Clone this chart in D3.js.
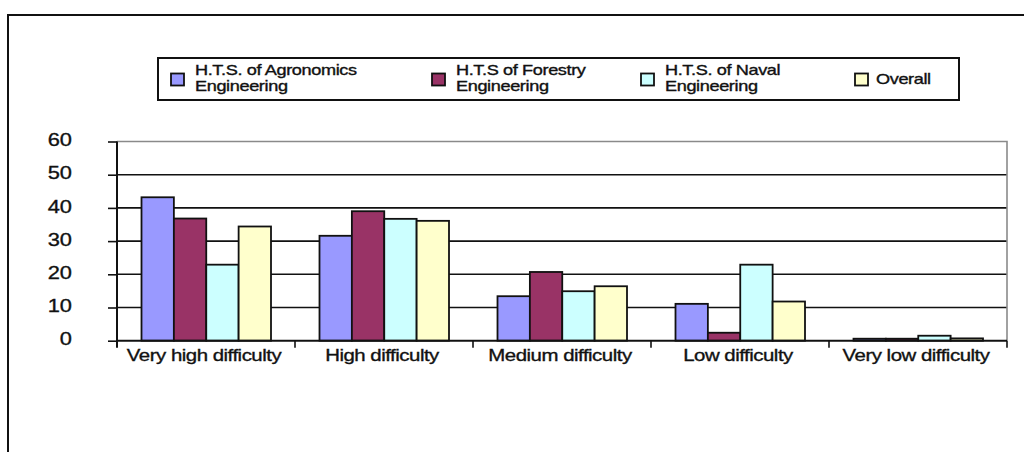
<!DOCTYPE html>
<html>
<head>
<meta charset="utf-8">
<script src="https://cdn.jsdelivr.net/npm/d3@7"></script>
<style>
  html, body { margin: 0; padding: 0; background: #fff; }
  svg { display: block; }
  text { font-family: "Liberation Sans", Arial, sans-serif; fill: #111; stroke: #111; stroke-width: 0.35px; }
</style>
</head>
<body>
<svg id="chart" width="1024" height="452"></svg>
<script>
// Difficulty levels along the x axis
const categories = ["Very high difficulty", "High difficulty", "Medium difficulty", "Low difficulty", "Very low difficulty"];

// Series names (legend lines) and their percentages per difficulty level
const seriesNames = ["H.T.S. of Agronomics Engineering", "H.T.S of Forestry Engineering", "H.T.S. of Naval Engineering", "Overall"];
const legendLines = [["H.T.S. of Agronomics", "Engineering"], ["H.T.S of Forestry", "Engineering"], ["H.T.S. of Naval", "Engineering"], ["Overall"]];
const agronomics = [43.2, 31.6, 13.4, 11.1, 0.6];
const forestry   = [36.8, 39.0, 20.7, 2.4, 0.6];
const naval      = [22.9, 36.7, 14.9, 22.9, 1.5];
const overall    = [34.4, 36.1, 16.4, 11.8, 0.7];
const yTicks = [0, 10, 20, 30, 40, 50, 60];

const seriesValues = [agronomics, forestry, naval, overall];
const colors = ["#9999FF", "#993366", "#CCFFFF", "#FFFFCC"];

const svg = d3.select("#chart");
const SX = 1.15;   // horizontal stretch for axis text
const SXL = 1.25;  // horizontal stretch for legend text

// Outer frame (top and left edges visible)
svg.append("path")
  .attr("d", "M8,452 V15 H1024")
  .attr("fill", "none").attr("stroke", "#111").attr("stroke-width", 2);

// Plot area
const plot = { left: 117, right: 1007, top: 141.5, bottom: 340.7 };

const x0 = d3.scaleBand().domain(categories).range([plot.left, plot.right]).padding(0);
const x1 = d3.scaleBand().domain(d3.range(seriesNames.length)).range([24.5, 154]).padding(0);
const y = d3.scaleLinear().domain([0, 60]).range([plot.bottom, plot.top]);

// Horizontal gridlines
svg.append("g").selectAll("line")
  .data(yTicks.filter(t => t > 0 && t < 60))
  .join("line")
  .attr("x1", plot.left).attr("x2", plot.right)
  .attr("y1", d => y(d)).attr("y2", d => y(d))
  .attr("stroke", "#111").attr("stroke-width", 1.6);

// Plot border (top and right, grey)
svg.append("path")
  .attr("d", `M${plot.left},${y(60)} H${plot.right} V${y(0)}`)
  .attr("fill", "none").attr("stroke", "#8a8a8a").attr("stroke-width", 1.6);

// Bars
const groups = svg.append("g").selectAll("g")
  .data(categories)
  .join("g")
  .attr("transform", d => `translate(${x0(d)},0)`);

groups.selectAll("rect")
  .data((d, ci) => seriesValues.map((vals, si) => ({ si, v: vals[ci] })))
  .join("rect")
  .attr("x", d => x1(d.si))
  .attr("width", x1.bandwidth())
  .attr("y", d => y(d.v))
  .attr("height", d => y(0) - y(d.v))
  .attr("fill", d => colors[d.si])
  .attr("stroke", "#111").attr("stroke-width", 1.8);

// Y axis
const yAxis = d3.axisLeft(y).tickValues(yTicks).tickSize(9).tickFormat("");
const gy = svg.append("g").attr("transform", `translate(${plot.left},0)`).call(yAxis);
gy.select(".domain").attr("d", `M0,${y(60)}V${y(0) + 7}`).attr("stroke", "#111").attr("stroke-width", 2);
gy.selectAll(".tick line").attr("stroke", "#111").attr("stroke-width", 1.6);

// Y tick labels
svg.append("g").selectAll("text")
  .data(yTicks)
  .join("text")
  .attr("transform", d => `translate(72,${y(d) + 4.6}) scale(${SX},1)`)
  .attr("text-anchor", "end")
  .style("font-size", "19px")
  .text(d => d);

// X axis with ticks at category boundaries
svg.append("line")
  .attr("x1", plot.left).attr("x2", plot.right)
  .attr("y1", y(0)).attr("y2", y(0))
  .attr("stroke", "#111").attr("stroke-width", 2);
svg.append("g").selectAll("line")
  .data(categories.slice(1).concat(["__end"]))
  .join("line")
  .attr("x1", d => d === "__end" ? plot.right : x0(d))
  .attr("x2", d => d === "__end" ? plot.right : x0(d))
  .attr("y1", y(0)).attr("y2", y(0) + 7)
  .attr("stroke", "#111").attr("stroke-width", 1.6);

// Category labels
svg.append("g").selectAll("text")
  .data(categories)
  .join("text")
  .attr("transform", d => `translate(${x0(d) + x0.bandwidth() / 2 - 2},361) scale(1.2,1)`)
  .attr("text-anchor", "middle")
  .style("font-size", "17px")
  .style("letter-spacing", "-0.4px")
  .text(d => d);

// Legend
const legend = svg.append("g");
legend.append("rect")
  .attr("x", 158).attr("y", 58).attr("width", 801).attr("height", 42)
  .attr("fill", "#fff").attr("stroke", "#111").attr("stroke-width", 2);

const legendX = [171, 432, 641, 855];
const items = legend.selectAll("g.item")
  .data(seriesNames)
  .join("g")
  .attr("class", "item")
  .attr("transform", (d, i) => `translate(${legendX[i]},0)`);

items.append("rect")
  .attr("x", 0).attr("y", 73.5).attr("width", 13).attr("height", 12)
  .attr("fill", (d, i) => colors[i])
  .attr("stroke", "#111").attr("stroke-width", 1.8);

items.each(function (d, i) {
  const lines = legendLines[i];
  const g = d3.select(this);
  const base = lines.length === 1 ? 84 : 75;
  lines.forEach((ln, k) => {
    g.append("text")
      .attr("transform", `translate(${lines.length === 1 ? 21 : 24},${base + k * 16}) scale(${SXL},1)`)
      .style("font-size", "14.5px")
      .style("letter-spacing", "-0.3px")
      .text(ln);
  });
});
</script>
</body>
</html>
